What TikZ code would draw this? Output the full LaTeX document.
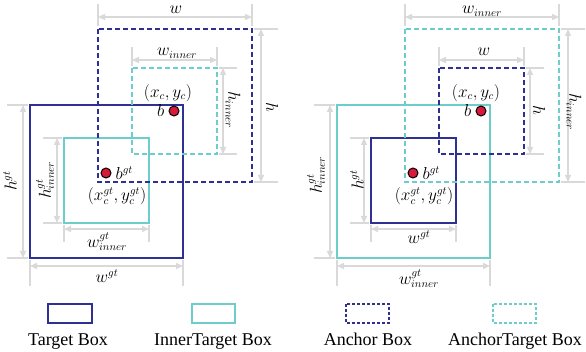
\documentclass[tikz,border=0pt]{standalone}
\usepackage{fontspec}
\setmainfont{Liberation Serif}
\usetikzlibrary{arrows.meta,positioning}
\definecolor{navyb}{HTML}{2E3192}
\definecolor{cyanb}{HTML}{6CCDCB}
\definecolor{dotred}{HTML}{D7193A}
\definecolor{dimgray}{HTML}{D9D9D9}
\tikzset{
  solidbox/.style={line width=2pt},
  dashbox/.style={line width=2pt, dash pattern=on 5pt off 3pt},
  dimline/.style={draw=dimgray, line width=1.3pt, {Triangle[length=7pt,width=6pt]}-{Triangle[length=7pt,width=6pt]}},
  extline/.style={draw=dimgray, line width=1.2pt},
  lab/.style={font=\fontsize{16}{18}\selectfont, inner sep=0pt},
  reddot/.style={circle, fill=dotred, draw=black, line width=1pt, minimum size=10pt, inner sep=0pt},
  legtext/.style={font=\fontsize{18}{20}\selectfont, anchor=base, inner sep=0pt},
  legsolid/.style={line width=1.5pt},
  legdash/.style={line width=1.5pt, dash pattern=on 3pt off 2pt},
}
\newcommand\PanelGeom[4]{% #1 xshift, #2 outer colour, #3 inner colour, #4 name prefix
\begin{scope}[xshift=#1pt]
  % extension lines
  \draw[extline] (98,4) -- (98,26) (252,4) -- (252,26);
  \draw[extline] (132,47) -- (132,66) (217,47) -- (217,66);
  \draw[extline] (219,68) -- (237,68) (219,154) -- (237,154);
  \draw[extline] (254,29) -- (278,29) (254,182) -- (278,182);
  \draw[extline] (7,105) -- (28,105) (7,258) -- (28,258);
  \draw[extline] (43,138) -- (62,138) (43,223) -- (62,223);
  \draw[extline] (64,225) -- (64,242) (149,225) -- (149,242);
  \draw[extline] (30,260) -- (30,286) (183,260) -- (183,286);
  % dimension arrows
  \coordinate (#4wa) at (98,17);   \coordinate (#4wb) at (252,17);
  \coordinate (#4wia) at (132,60); \coordinate (#4wib) at (217,60);
  \coordinate (#4hia) at (223,68); \coordinate (#4hib) at (223,154);
  \coordinate (#4ha) at (261,29);  \coordinate (#4hb) at (261,182);
  \coordinate (#4gha) at (23,105); \coordinate (#4ghb) at (23,258);
  \coordinate (#4ghia) at (57,138);\coordinate (#4ghib) at (57,223);
  \coordinate (#4gwia) at (64,229);\coordinate (#4gwib) at (149,229);
  \coordinate (#4gwa) at (30,266); \coordinate (#4gwb) at (183,266);
  \draw[dimline] (#4wa) -- (#4wb);
  \draw[dimline] (#4wia) -- (#4wib);
  \draw[dimline] (#4hia) -- (#4hib);
  \draw[dimline] (#4ha) -- (#4hb);
  \draw[dimline] (#4gha) -- (#4ghb);
  \draw[dimline] (#4ghia) -- (#4ghib);
  \draw[dimline] (#4gwia) -- (#4gwib);
  \draw[dimline] (#4gwa) -- (#4gwb);
  % boxes
  \draw[solidbox, draw=#2] (30,105) rectangle (183,258);
  \draw[solidbox, draw=#3] (64,138) rectangle (149,223);
  \draw[dashbox, draw=#2] (98,29) rectangle (252,182);
  \draw[dashbox, draw=#3] (132,68) rectangle (217,154);
  % centre dots
  \node[reddot] (#4b) at (174,111) {};
  \node[reddot] (#4bgt) at (106,173) {};
\end{scope}}
\begin{document}
\begin{tikzpicture}[x=1pt,y=-1pt]
\useasboundingbox (0,0) rectangle (586,352);
\PanelGeom{0}{navyb}{cyanb}{L}
\PanelGeom{307}{cyanb}{navyb}{R}
% left labels
\node[lab] (Lw) at (176,10) {$w$};
\node[lab] (Lwi) at (177,53) {$w_{inner}$};
\node[lab, rotate=-90] (Lhi) at (233,110) {$h_{inner}$};
\node[lab, rotate=-90] (Lh) at (272,107) {$h$};
\node[lab, rotate=90] (Lgh) at (10,181) {$h^{gt}$};
\node[lab, rotate=90] (Lghi) at (45,180) {$h^{gt}_{inner}$};
\node[lab] (Lgwi) at (107,242) {$w^{gt}_{inner}$};
\node[lab] (Lgw) at (107,276) {$w^{gt}$};
\node[lab] (Lxy) at (168,93) {$(x_c, y_c)$};
\node[lab, left=4pt of Lb] (Lbl) {$b$};
\node[lab, right=4pt of Lbgt] (Lbgtl) {$b^{gt}$};
\node[lab] (Lxygt) at (117,196) {$\bigl(x_c^{gt}, y_c^{gt}\bigr)$};
% right labels
\node[lab] (Rwi) at (482,11) {$w_{inner}$};
\node[lab] (Rw) at (484,52) {$w$};
\node[lab, rotate=-90] (Rh) at (539,110) {$h$};
\node[lab, rotate=-90] (Rhi) at (574,112) {$h_{inner}$};
\node[lab, rotate=90] (Rgh) at (357,180) {$h^{gt}$};
\node[lab, rotate=90] (Rghi) at (316,175) {$h^{gt}_{inner}$};
\node[lab] (Rgw) at (419,237) {$w^{gt}$};
\node[lab] (Rgwi) at (419,279) {$w^{gt}_{inner}$};
\node[lab] (Rxy) at (476,93) {$(x_c, y_c)$};
\node[lab, left=4pt of Rb] (Rbl) {$b$};
\node[lab, right=4pt of Rbgt] (Rbgtl) {$b^{gt}$};
\node[lab] (Rxygt) at (424,196) {$\bigl(x_c^{gt}, y_c^{gt}\bigr)$};
% legend
\draw[legsolid, draw=navyb] (48,304) rectangle (92,323);
\draw[legsolid, draw=cyanb] (192,304) rectangle (235,323);
\draw[legdash, draw=navyb] (346,304) rectangle (389,323);
\draw[legdash, draw=cyanb] (493,304) rectangle (536,323);
\node[legtext] (t1) at (68,345) {Target Box};
\node[legtext] (t2) at (213,345) {InnerTarget Box};
\node[legtext] (t3) at (368,345) {Anchor Box};
\node[legtext] (t4) at (515,345) {AnchorTarget Box};
\end{tikzpicture}
\end{document}
